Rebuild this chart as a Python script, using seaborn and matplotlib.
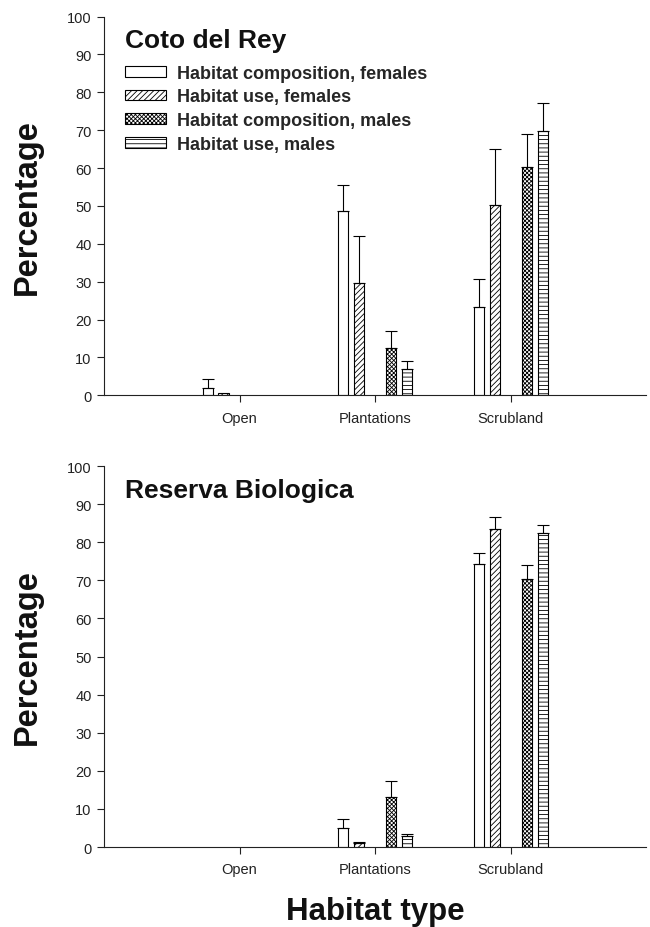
import numpy as np
import pandas as pd
import matplotlib
matplotlib.use("Agg")
import matplotlib.pyplot as plt
from matplotlib.patches import Patch
from matplotlib.container import BarContainer
import seaborn as sns

# categorias e séries
habitats = ["Open", "Plantations", "Scrubland"]
series = ["Habitat composition, females", "Habitat use, females",
          "Habitat composition, males", "Habitat use, males"]

# Coto del Rey (média e erro superior)
coto_comp_f = [2.0, 48.6, 23.2]
coto_comp_f_err = [2.2, 7.0, 7.5]
coto_use_f = [0.6, 29.6, 50.3]
coto_use_f_err = [0.0, 12.4, 14.8]
coto_comp_m = [0.0, 12.6, 60.2]
coto_comp_m_err = [0.0, 4.3, 8.8]
coto_use_m = [0.0, 6.9, 69.8]
coto_use_m_err = [0.0, 2.2, 7.3]

# Reserva Biologica
rb_comp_f = [0.0, 5.0, 74.3]
rb_comp_f_err = [0.0, 2.4, 3.0]
rb_use_f = [0.0, 1.0, 83.6]
rb_use_f_err = [0.0, 0.3, 3.1]
rb_comp_m = [0.0, 13.2, 70.3]
rb_comp_m_err = [0.0, 4.0, 3.7]
rb_use_m = [0.0, 3.0, 82.3]
rb_use_m_err = [0.0, 0.5, 2.2]

hatches = ["", "//////", "xxxxxxxx", "----"]
gap_level = " "  # slot vazio no meio do grupo
hue_order = [series[0], series[1], gap_level, series[2], series[3]]

sns.set_style("white")
plt.rcParams["font.family"] = ["Liberation Sans", "DejaVu Sans"]
plt.rcParams["hatch.linewidth"] = 0.6
plt.rcParams["hatch.color"] = "black"


def make_df(vals, errs):
    rows = []
    for s, v, e in zip(series, vals, errs):
        for h, vv, ee in zip(habitats, v, e):
            rows.append({"habitat": h, "serie": s, "valor": vv, "erro": ee})
    for h in habitats:
        rows.append({"habitat": h, "serie": gap_level, "valor": 0.0, "erro": 0.0})
    return pd.DataFrame(rows)


def painel(ax, df, titulo):
    sns.barplot(data=df, x="habitat", y="valor", hue="serie", order=habitats,
                hue_order=hue_order, width=0.59, gap=0.37, errorbar=None,
                palette=["white"] * 5, edgecolor="black", linewidth=0.8,
                legend=False, ax=ax)
    bars = [c for c in ax.containers if isinstance(c, BarContainer)]
    bars = sorted(bars, key=lambda c: c.patches[0].get_x())
    # esconder slot vazio
    for p in bars[2].patches:
        p.set_visible(False)
    conts = [bars[0], bars[1], bars[3], bars[4]]
    for c, hat, s in zip(conts, hatches, series):
        sub = df[df["serie"] == s].set_index("habitat").loc[habitats]
        pats = sorted(c.patches, key=lambda p: p.get_x())
        xs, ys, es = [], [], []
        for p, (_, r) in zip(pats, sub.iterrows()):
            p.set_hatch(hat)
            p.set_facecolor("white")
            if p.get_height() <= 0:
                p.set_visible(False)
                continue
            if r["erro"] <= 0:
                continue
            xs.append(p.get_x() + p.get_width() / 2)
            ys.append(r["valor"])
            es.append(r["erro"])
        if xs:
            es = np.array(es)
            ax.errorbar(xs, ys, yerr=[np.zeros_like(es), es], fmt="none",
                        ecolor="black", elinewidth=0.8, capsize=4, capthick=0.8)

    ax.set_xlim(-1, 3)
    ax.set_ylim(0, 100)
    ax.set_yticks(range(0, 101, 10))
    sns.despine(ax=ax)
    for sp in ["left", "bottom"]:
        ax.spines[sp].set_linewidth(0.8)
        ax.spines[sp].set_color("#222222")
    ax.tick_params(axis="both", direction="out", length=5, width=0.8,
                   labelsize=10.5, colors="#222222", pad=4, left=True, bottom=True)
    ax.tick_params(axis="x", pad=6)
    ax.set_ylabel("Percentage", fontsize=23.5, fontweight="bold", color="#111111")
    ax.yaxis.set_label_coords(-0.112, 0.5)
    ax.set_xlabel("")
    ax.text(0.039, 0.92, titulo, transform=ax.transAxes, fontsize=19,
            fontweight="bold", va="baseline", ha="left", color="#111111")


fig = plt.figure(figsize=(6.5, 9.28), dpi=100)
ax1 = fig.add_axes([0.16, 0.573, 0.834, 0.408])
ax2 = fig.add_axes([0.16, 0.0862, 0.834, 0.4105])

df1 = make_df([coto_comp_f, coto_use_f, coto_comp_m, coto_use_m],
              [coto_comp_f_err, coto_use_f_err, coto_comp_m_err, coto_use_m_err])
df2 = make_df([rb_comp_f, rb_use_f, rb_comp_m, rb_use_m],
              [rb_comp_f_err, rb_use_f_err, rb_comp_m_err, rb_use_m_err])

painel(ax1, df1, "Coto del Rey")
painel(ax2, df2, "Reserva Biologica")

handles = [Patch(facecolor="white", edgecolor="black", hatch=h, linewidth=0.8)
           for h in hatches]
ax1.legend(handles, series, loc="upper left", bbox_to_anchor=(0.026, 0.892),
           frameon=False, prop={"size": 13, "weight": "bold"},
           handlelength=2.25, handleheight=0.55, handletextpad=0.6,
           labelspacing=0.37, borderaxespad=0)

ax2.set_xlabel("Habitat type", fontsize=22.5, fontweight="bold", color="#111111",
               va="baseline")
ax2.xaxis.set_label_coords(0.5, -0.189)

fig.savefig("out.png", dpi=100)
